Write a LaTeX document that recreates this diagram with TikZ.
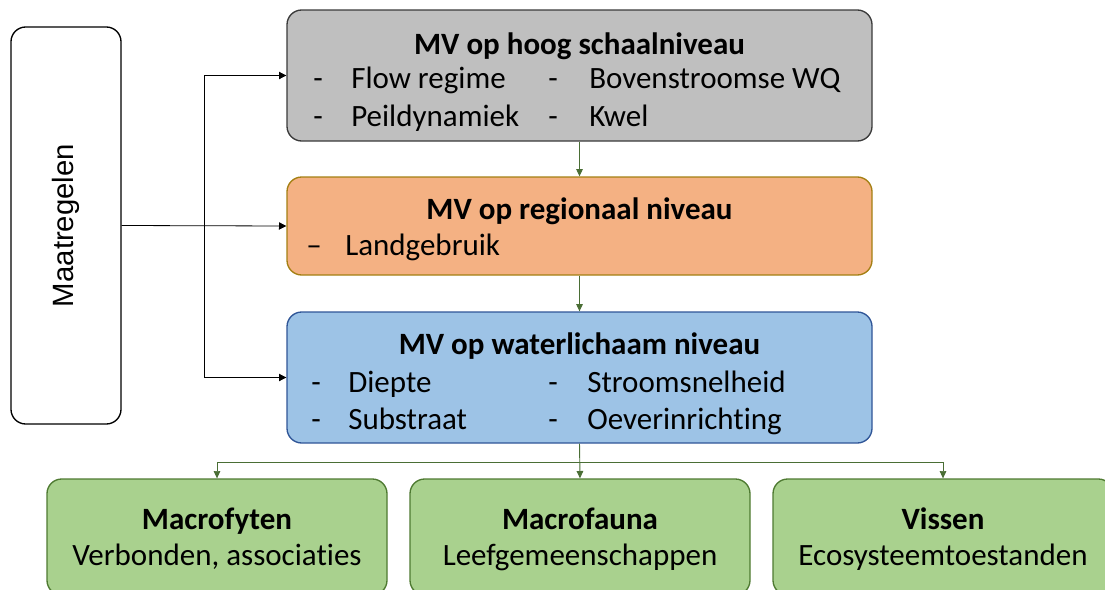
\documentclass[tikz,border=0pt]{standalone}
\usepackage{fontspec}
\setmainfont[Ligatures={NoCommon}]{Carlito}
\newfontfamily\arialfont{Liberation Sans}
\usepackage{tikz}
\usetikzlibrary{arrows.meta,positioning}
\definecolor{GrijsVul}{HTML}{BFBFBF}
\definecolor{GrijsRand}{HTML}{3A3A3A}
\definecolor{OranjeVul}{HTML}{F4B183}
\definecolor{OranjeRand}{HTML}{A47F12}
\definecolor{BlauwVul}{HTML}{9DC3E6}
\definecolor{BlauwRand}{HTML}{2F5597}
\definecolor{GroenVul}{HTML}{A9D18E}
\definecolor{GroenRand}{HTML}{4E7A31}
\definecolor{GroenLijn}{HTML}{4A6E35}

\begin{document}
\begin{tikzpicture}[x=0.75pt,y=-0.75pt,
  blok/.style={draw,line width=1pt,rounded corners=11pt,inner sep=0pt},
  titel/.style={font=\fontsize{23.25}{28}\selectfont\bfseries,inner sep=0pt,text height=0.68em,text depth=0.2em,yshift=-5.25pt},
  punt/.style={font=\fontsize{23.25}{28}\selectfont,inner sep=0pt,anchor=west,text height=0.68em,text depth=0.2em,yshift=-5.25pt},
  streep/.style={font=\fontsize{23.25}{28}\selectfont,inner sep=0pt,text height=0.68em,text depth=0.2em,yshift=-5.25pt},
  zwart/.style={-{Triangle[length=5.5pt,width=5.5pt]},line width=0.6pt,black},
  groen/.style={-{Triangle[length=5.5pt,width=5pt]},line width=0.7pt,GroenLijn}]
  \useasboundingbox (0,0) rectangle (1105,589);
  % blokken
  \node[blok,fill=white,minimum width=82.5pt,minimum height=297.75pt] (maat) at (66,225.5) {};
  \node[blok,draw=GrijsRand,fill=GrijsVul,minimum width=438.75pt,minimum height=98.25pt] (hoog) at (579.5,75.5) {};
  \node[blok,draw=OranjeRand,fill=OranjeVul,minimum width=438.75pt,minimum height=73.5pt] (regio) at (579.5,226) {};
  \node[blok,draw=BlauwRand,fill=BlauwVul,minimum width=438.75pt,minimum height=98.25pt] (water) at (579.5,377.5) {};
  \node[blok,draw=GroenRand,fill=GroenVul,minimum width=255pt,minimum height=87pt] (fyten) at (217,537) {};
  \node[blok,draw=GroenRand,fill=GroenVul,minimum width=255pt,minimum height=87pt] (fauna) at (580,537) {};
  \node[blok,draw=GroenRand,fill=GroenVul,minimum width=255pt,minimum height=87pt] (vissen) at (943,537) {};
  % teksten
  \node[rotate=90,inner sep=0pt,font=\arialfont\fontsize{22}{26}\selectfont] (maatT) at (maat) {Maatregelen};
  \node[titel] (hoogT) at (579.5,44) {MV op hoog schaalniveau};
  \node[streep] (hs1) at (318,78) {-};
  \node[punt] (flow) at (351,78) {Flow regime};
  \node[streep] (hs2) at (553,78) {-};
  \node[punt] (boven) at (589,78) {Bovenstroomse WQ};
  \node[streep] (hs3) at (318,116) {-};
  \node[punt] (peil) at (351,116) {Peildynamiek};
  \node[streep] (hs4) at (553,116) {-};
  \node[punt] (kwel) at (589,116) {Kwel};
  \node[titel] (regioT) at (579.5,209) {MV op regionaal niveau};
  \node[streep] (rs1) at (314,245) {--};
  \node[punt] (land) at (345,245) {Landgebruik};
  \node[titel] (waterT) at (579.5,344) {MV op waterlichaam niveau};
  \node[streep] (ws1) at (316,382) {-};
  \node[punt] (diep) at (348,382) {Diepte};
  \node[streep] (ws2) at (553,382) {-};
  \node[punt] (stroom) at (587,382) {Stroomsnelheid};
  \node[streep] (ws3) at (316,419) {-};
  \node[punt] (sub) at (348,419) {Substraat};
  \node[streep] (ws4) at (553,419) {-};
  \node[punt] (oever) at (587,419) {Oeverinrichting};
  \node[titel] (fytenT) at (217,519) {Macrofyten};
  \node[streep] (fytenS) at (217,555) {Verbonden, associaties};
  \node[titel] (faunaT) at (580,519) {Macrofauna};
  \node[streep] (faunaS) at (580,555) {Leefgemeenschappen};
  \node[titel] (vissenT) at (943,519) {Vissen};
  \node[streep] (vissenS) at (943,555) {Ecosysteemtoestanden};
  % verbindingen
  \coordinate (splits) at (204,226);
  \draw[zwart] (maat.east) -- (regio.west);
  \draw[zwart] (splits) |- (hoog.west);
  \draw[zwart] (splits) |- (water.west);
  \draw[groen] (hoog.south) -- (regio.north);
  \draw[groen] (regio.south) -- (water.north);
  \draw[groen] (water.south) -- (fauna.north);
  \coordinate (tak) at (580,462);
  \draw[groen,line width=0.5pt] (tak) -| (fyten.north);
  \draw[groen,line width=0.5pt] (tak) -| (vissen.north);
\end{tikzpicture}
\end{document}
